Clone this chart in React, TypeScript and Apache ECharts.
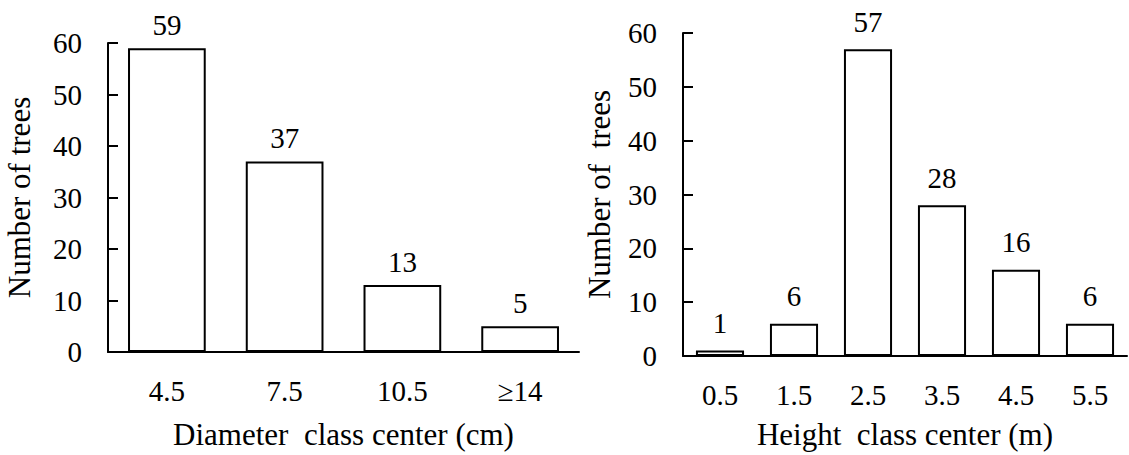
import React, { useEffect, useRef } from "react";
import * as echarts from "echarts";

const diameterCategories = ["4.5", "7.5", "10.5", "≥14"];
const diameterCounts = [59, 37, 13, 5];
const heightCategories = ["0.5", "1.5", "2.5", "3.5", "4.5", "5.5"];
const heightCounts = [1, 6, 57, 28, 16, 6];
const yTicks = { min: 0, max: 60, interval: 10 };

const FONT = "'Liberation Serif', 'DejaVu Serif', serif";
const FS = 29;
const NAME_FS = 31;

export default function App() {
  const ref = useRef<HTMLDivElement>(null);
  useEffect(() => {
    if (!ref.current) return;
    const chart = echarts.init(ref.current, null, { renderer: "svg" });
    const axisLine = { show: true, lineStyle: { color: "#000", width: 2 } };
    const textBase = { color: "#000", fontFamily: FONT, fontSize: FS };
    const nameText = { color: "#000", fontFamily: FONT, fontSize: NAME_FS };
    const yAxisCommon = (name: string, gap: number, idx: number) => ({
      type: "value",
      gridIndex: idx,
      min: yTicks.min,
      max: yTicks.max,
      interval: yTicks.interval,
      name,
      nameLocation: "middle",
      nameGap: gap,
      nameTextStyle: nameText,
      axisLine,
      axisTick: { show: true, inside: true, length: 10, lineStyle: { color: "#000", width: 2 } },
      axisLabel: { ...textBase, margin: 26 },
      splitLine: { show: false },
    });
    const xAxisCommon = (cats: string[], name: string, gap: number, idx: number) => ({
      type: "category",
      gridIndex: idx,
      data: cats,
      name,
      nameLocation: "middle",
      nameGap: gap,
      nameTextStyle: nameText,
      axisLine,
      axisTick: { show: false },
      axisLabel: { ...textBase, margin: 24, interval: 0 },
      splitLine: { show: false },
    });
    const barStyle = { color: "#fff", borderColor: "#000", borderWidth: 2 };
    chart.setOption({
      animation: false,
      backgroundColor: "#fff",
      grid: [
        { left: 108, top: 43, width: 471, height: 314, containLabel: false },
        { left: 683, top: 33, width: 444, height: 328, containLabel: false },
      ],
      xAxis: [
        xAxisCommon(diameterCategories, "Diameter\u00a0 class center (cm)", 67, 0),
        xAxisCommon(heightCategories, "Height\u00a0 class center (m)", 63, 1),
      ],
      yAxis: [
        yAxisCommon("Number of trees", 73, 0),
        yAxisCommon("Number of\u00a0 trees", 68, 1),
      ],
      series: [
        {
          type: "bar",
          xAxisIndex: 0,
          yAxisIndex: 0,
          data: diameterCounts,
          barWidth: "66%",
          itemStyle: barStyle,
          label: { show: true, position: "top", distance: 9, ...textBase },
        },
        {
          type: "bar",
          xAxisIndex: 1,
          yAxisIndex: 1,
          data: heightCounts,
          barWidth: "65%",
          itemStyle: barStyle,
          label: { show: true, position: "top", distance: 13, ...textBase },
        },
      ],
    });
    return () => chart.dispose();
  }, []);
  return (
    <div
      ref={ref}
      style={{ position: "fixed", left: 0, top: 0, width: 1129, height: 455, background: "#fff" }}
    />
  );
}
